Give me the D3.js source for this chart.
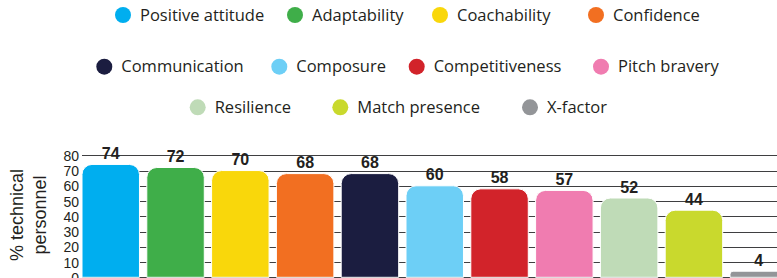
<!DOCTYPE html>
<html>
<head>
<meta charset="utf-8">
<script src="https://cdn.jsdelivr.net/npm/d3@7"></script>
<style>
  html, body { margin: 0; padding: 0; background: #fff; overflow: hidden; }
  svg { display: block; }
</style>
</head>
<body>
<svg id="chart" width="777" height="278"></svg>
<script>
// ---- data ----
const categories = ["Positive attitude", "Adaptability", "Coachability", "Confidence",
  "Communication", "Composure", "Competitiveness", "Pitch bravery",
  "Resilience", "Match presence", "X-factor"];
const values = [74, 72, 70, 68, 68, 60, 58, 57, 52, 44, 4];
const colors = ["#00aeef", "#3fae49", "#f9d70b", "#f26f21", "#1b1d40", "#6dcff6",
  "#d2232a", "#f07cb0", "#bfdbb7", "#c9d92d", "#939598"];
const yTicks = [0, 10, 20, 30, 40, 50, 60, 70, 80];
const yTitleLines = ["% technical", "personnel"];
const legendRows = [
  ["Positive attitude", "Adaptability", "Coachability", "Confidence"],
  ["Communication", "Composure", "Competitiveness", "Pitch bravery"],
  ["Resilience", "Match presence", "X-factor"]
];

// ---- layout ----
const legendRowY = [15, 66.7, 107.3];
const legendX = [
  [123, 295, 440, 596],
  [104.3, 279.3, 416.7, 601],
  [197.7, 340.3, 530]
];
const plotLeft = 82, step = 64.8, inner = 0.113;
const svg = d3.select("#chart");
const textColor = "#231f20";

const x = d3.scaleBand()
  .domain(categories)
  .range([plotLeft, plotLeft + step * categories.length - step * inner])
  .paddingInner(inner)
  .paddingOuter(0);
const y = d3.scaleLinear().domain([0, 80]).range([277.3, 155.3]);
const color = d3.scaleOrdinal().domain(categories).range(colors);

// gridlines
svg.append("g").selectAll("line").data(yTicks).join("line")
  .attr("x1", plotLeft).attr("x2", 777)
  .attr("y1", d => Math.round(y(d)) + 0.5).attr("y2", d => Math.round(y(d)) + 0.5)
  .attr("stroke", "#3f3f41").attr("stroke-width", 1);

// y axis labels
const yAxis = d3.axisLeft(y).tickValues(yTicks).tickSize(0).tickPadding(0);
const gy = svg.append("g").attr("transform", `translate(${plotLeft - 3},0)`).call(yAxis);
gy.select(".domain").remove();
gy.selectAll("text")
  .attr("font-family", "'Liberation Sans', Arial, sans-serif")
  .attr("font-size", 14).attr("fill", textColor).attr("dy", "0.36em");

// y title
const yt = svg.append("g").attr("transform", "translate(0,215) rotate(-90)");
yt.selectAll("text").data(yTitleLines).join("text")
  .attr("x", 0).attr("y", (d, i) => 23 + i * 22.5)
  .attr("text-anchor", "middle")
  .attr("font-family", "'Liberation Sans', Arial, sans-serif")
  .attr("font-size", 18).attr("fill", textColor)
  .text(d => d);

// bars with rounded tops
function barPath(d, i) {
  const x0 = x(categories[i]), w = x.bandwidth();
  const top = y(d), bot = y(0);
  const h = bot - top;
  const r = Math.min(10, h / 2, w / 2);
  return `M${x0},${bot} L${x0},${top + r} A${r},${r} 0 0 1 ${x0 + r},${top} ` +
    `L${x0 + w - r},${top} A${r},${r} 0 0 1 ${x0 + w},${top + r} L${x0 + w},${bot} Z`;
}
svg.append("g").selectAll("path").data(values).join("path")
  .attr("d", barPath)
  .attr("fill", (d, i) => color(categories[i]))
  .attr("stroke", "#fff").attr("stroke-width", 1);

// value labels
svg.append("g").selectAll("text").data(values).join("text")
  .attr("x", (d, i) => x(categories[i]) + x.bandwidth() / 2)
  .attr("y", d => y(d) - 5.5)
  .attr("text-anchor", "middle")
  .attr("font-family", "'Liberation Sans', Arial, sans-serif")
  .attr("font-weight", "bold").attr("font-size", 16)
  .attr("fill", textColor)
  .text(d => d);

// legend
const lg = svg.append("g");
legendRows.forEach((row, ri) => {
  row.forEach((name, ci) => {
    const cx = legendX[ri][ci], cy = legendRowY[ri];
    lg.append("circle").attr("cx", cx).attr("cy", cy).attr("r", 8)
      .attr("fill", color(name));
    lg.append("text").attr("x", cx + 17).attr("y", cy).attr("dy", "0.35em")
      .attr("font-family", "'Open Sans', sans-serif").attr("font-size", 16.5)
      .attr("fill", textColor)
      .text(name);
  });
});
</script>
</body>
</html>
